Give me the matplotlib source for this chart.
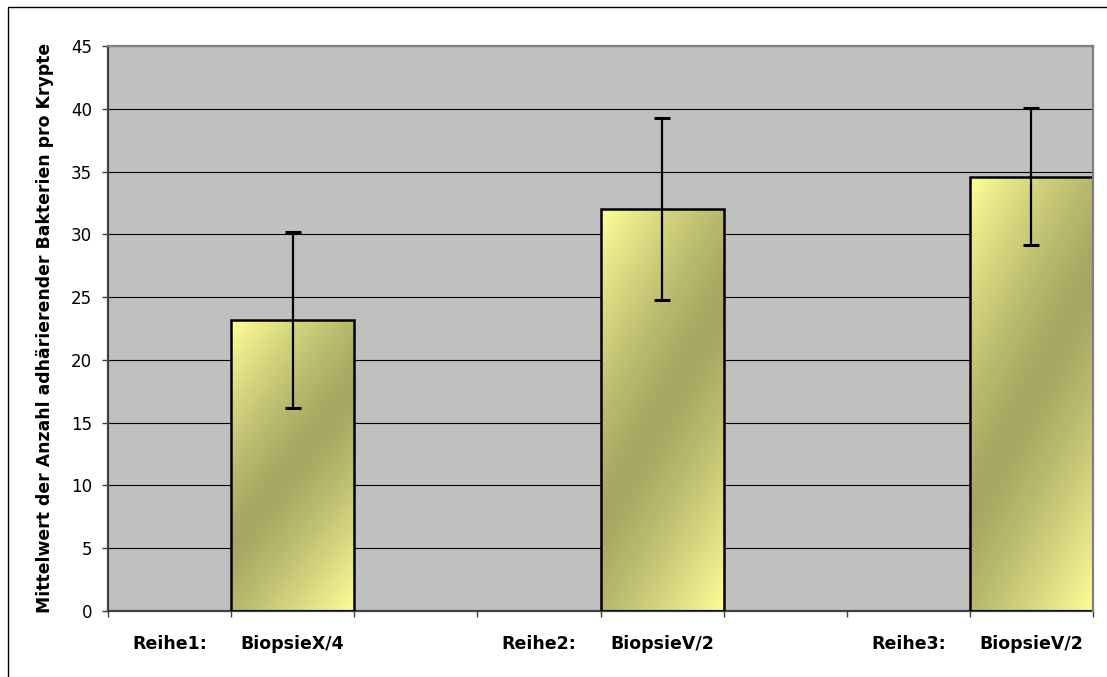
import numpy as np
import matplotlib
matplotlib.use("Agg")
import matplotlib.pyplot as plt
from matplotlib.colors import to_rgb
from matplotlib.patches import Rectangle

# ---- data ----
labels = ["Reihe1:", "BiopsieX/4", "", "Reihe2:", "BiopsieV/2", "", "Reihe3:", "BiopsieV/2"]
means = [np.nan, 23.15, np.nan, np.nan, 32.0, np.nan, np.nan, 34.6]
errs = [np.nan, 7.0, np.nan, np.nan, 7.25, np.nan, np.nan, 5.45]
yticks = list(range(0, 50, 5))
ylabel = "Mittelwert der Anzahl adhärierender Bakterien pro Krypte"

light = np.array(to_rgb("#FFFF99"))
dark = np.array(to_rgb("#A6A662"))

plt.rcParams['font.family'] = ['DejaVu Sans']

fig = plt.figure(figsize=(11.07, 6.77), dpi=100)
ax = fig.add_axes([108/1107, 1 - 611/677, 985/1107, 565/677])
ax.set_facecolor("#C0C0C0")

x = np.arange(len(labels))
bars = ax.bar(x, means, width=1.0, facecolor="none", edgecolor="black",
              linewidth=1.8, zorder=3)

# diagonal gradient fill inside each bar (light top-left / bottom-right, dark band)
n = 200
u, s = np.meshgrid(np.linspace(0, 1, n), np.linspace(0, 1, n))   # s runs top -> bottom
d = np.abs((s - 0.5) + 0.55 * (u - 0.5)) / 0.775
t = np.clip(d, 0, 1) ** 1.3
grad = dark[None, None, :] + (light - dark)[None, None, :] * t[..., None]
for b, m in zip(bars, means):
    if np.isnan(m):
        continue
    x0, w, h = b.get_x(), b.get_width(), b.get_height()
    im = ax.imshow(grad, extent=(x0, x0 + w, 0, h), origin="upper",
                   aspect="auto", zorder=2, interpolation="bilinear")
    im.set_clip_path(b)

ax.errorbar(x, means, yerr=errs, fmt="none", ecolor="black", elinewidth=1.6,
            capsize=5.5, capthick=2.2, zorder=4)

ax.set_xlim(-0.5, len(labels) - 0.5)
ax.set_ylim(0, 45)
ax.set_yticks(yticks)
ax.yaxis.grid(True, color="black", linewidth=0.8)
ax.set_axisbelow(True)

ax.set_xticks(x)
ax.set_xticklabels(labels, fontweight="bold", fontsize=12.5)
ax.set_xticks(np.arange(-0.5, len(labels)), minor=True)
ax.tick_params(axis="x", which="major", length=0, pad=17)
ax.tick_params(axis="x", which="minor", length=4, width=1, color="#404040", direction="out")
ax.tick_params(axis="y", length=4.5, width=1, color="#404040", direction="out",
               labelsize=12, pad=7)

for side in ["top", "right"]:
    ax.spines[side].set_color("#808080")
    ax.spines[side].set_linewidth(1.6)
    ax.spines[side].set_zorder(5)
for side in ["left", "bottom"]:
    ax.spines[side].set_color("#404040")
    ax.spines[side].set_linewidth(1.6)

fig.text(45/1107, 1 - 328/677, ylabel, rotation=90, ha="center", va="center",
         fontsize=12.4, fontweight="bold")

# outer chart border (right/bottom edges run off the image)
fig.patches.append(Rectangle((8/1107, -0.02), 1.05, 1 - 7/677 + 0.02,
                             transform=fig.transFigure, fill=False,
                             edgecolor="black", linewidth=1.0))

fig.savefig("out.png", dpi=100)
